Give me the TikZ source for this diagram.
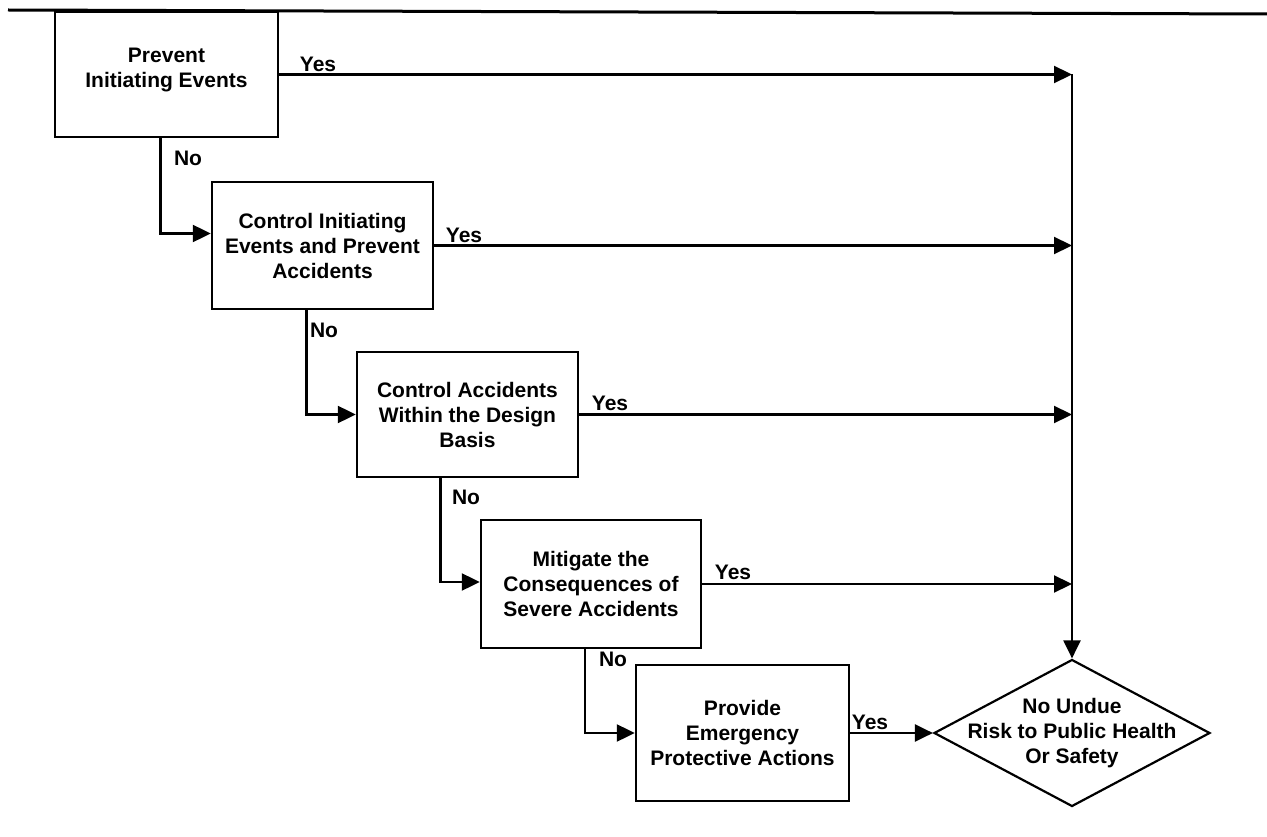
\documentclass[tikz,border=0pt]{standalone}
\usepackage{fontspec}
\setmainfont{Liberation Sans}
\usetikzlibrary{arrows.meta,shapes.geometric,calc}
\begin{document}
\begin{tikzpicture}[x=1pt,y=-1pt,
  txt/.style={align=center, inner sep=0pt, font=\bfseries\fontsize{21}{25}\selectfont},
  box/.style={draw, line width=2.4pt, txt},
  lbl/.style={font=\bfseries\fontsize{21}{24}\selectfont, inner sep=0pt},
  conn/.style={line width=2.2pt},
  arr/.style={conn, -{Triangle[length=18pt,width=17pt]}}]
\useasboundingbox (0,0) rectangle (1267,837);
\draw[line width=3pt] (8,10) -- (1267,14);
% boxes
\node[box, minimum width=223pt, minimum height=125pt] (b1) at (166.5,74.5) {};
\node[txt] (b1t) at (166.5,70) {Prevent\\Initiating Events};
\node[box, minimum width=221pt, minimum height=127pt] (b2) at (322.5,245.5) {Control Initiating\\Events and Prevent\\Accidents};
\node[box, minimum width=221pt, minimum height=125pt] (b3) at (467.5,414.5) {Control Accidents\\Within the Design\\Basis};
\node[box, minimum width=220pt, minimum height=128pt] (b4) at (591,584) {Mitigate the\\Consequences of\\Severe Accidents};
\node[box, minimum width=213pt, minimum height=136pt] (b5) at (742.5,733) {Provide\\Emergency\\Protective Actions};
\node[draw, diamond, line width=2.2pt, minimum width=276pt, minimum height=147pt, inner sep=0pt] (d) at (1072,733) {};
\node[txt] (dt) at (d.center) {No Undue\\Risk to Public Health\\Or Safety};
% trunk
\coordinate (top) at (b1.east -| d.north);
\draw[arr] (top) -- (d.north);
% yes arrows
\draw[arr] (b1.east) -- (top);
\draw[arr] (b2.east) -- (b2.east -| d.north);
\draw[arr] (b3.east) -- (b3.east -| d.north);
\draw[arr] (b4.east) -- (b4.east -| d.north);
\draw[arr] (b5.east) -- (d.west);
% no arrows
\draw[arr] ([xshift=-6pt]b1.south) |- ([yshift=12pt]b2.west);
\draw[arr] ([xshift=-16pt]b2.south) |- (b3.west);
\draw[arr] ([xshift=-27pt]b3.south) |- ([yshift=2pt]b4.west);
\draw[arr] ([xshift=-6pt]b4.south) |- (b5.west);
% labels
\node[lbl] (y1) at (318,64) {Yes};
\node[lbl] (y2) at (464,235) {Yes};
\node[lbl] (y3) at (610,403) {Yes};
\node[lbl] (y4) at (733,572) {Yes};
\node[lbl] (y5) at (870,722) {Yes};
\node[lbl] (n1) at (188,158) {No};
\node[lbl] (n2) at (324,330) {No};
\node[lbl] (n3) at (466,497) {No};
\node[lbl] (n4) at (613,659) {No};
\end{tikzpicture}
\end{document}
